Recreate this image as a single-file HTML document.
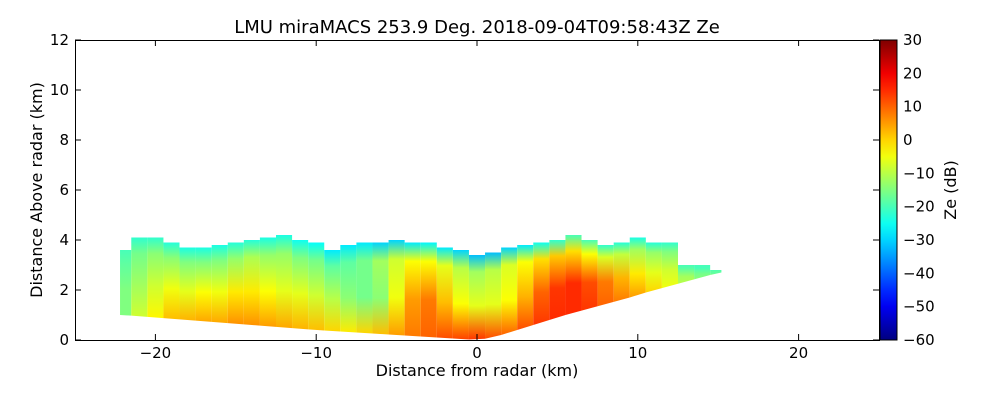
<!DOCTYPE html>
<html><head><meta charset="utf-8"><style>
html,body{margin:0;padding:0;background:#fff;width:1000px;height:400px;overflow:hidden}
text{font-family:"DejaVu Sans","Liberation Sans",sans-serif;fill:#000}
</style></head><body>
<svg id="chart" width="1000" height="400" xmlns="http://www.w3.org/2000/svg">
<defs id="defs"></defs>
<text x="477" y="33" font-size="18" text-anchor="middle">LMU miraMACS 253.9 Deg. 2018-09-04T09:58:43Z  Ze</text>
<g id="data"></g>
<rect x="75.5" y="40.5" width="804" height="300" fill="none" stroke="#000" stroke-width="1"/>
<g id="axes"></g>
<rect x="880" y="40" width="17" height="300" fill="url(#cbgrad)" stroke="#000" stroke-width="1"/>
<text x="477" y="376" font-size="16" text-anchor="middle">Distance from radar (km)</text>
<text transform="translate(42,190) rotate(-90)" font-size="16" text-anchor="middle">Distance Above radar  (km)</text>
<text transform="translate(956,190) rotate(-90)" font-size="16" text-anchor="middle">Ze (dB)</text>
</svg>
<script>
const xTicks=[-20,-10,0,10,20];
const yTicks=[0,2,4,6,8,10,12];
const cbTicks=[30,20,10,0,-10,-20,-30,-40,-50,-60];
const colX=[-22,-21,-20,-19,-18,-17,-16,-15,-14,-13,-12,-11,-10,-9,-8,-7,-6,-5,-4,-3,-2,-1,0,1,2,3,4,5,6,7,8,9,10,11,12,13,14,15];
const colTop=[3.6,4.1,4.1,3.9,3.7,3.7,3.8,3.9,4.0,4.1,4.2,4.0,3.9,3.6,3.8,3.9,3.9,4.0,3.9,3.9,3.7,3.6,3.4,3.5,3.7,3.8,3.9,4.0,4.2,4.0,3.8,3.9,4.1,3.9,3.9,3.0,3.0,2.8];
const colBottom=[1.0,0.95,0.9,0.85,0.8,0.75,0.7,0.65,0.6,0.55,0.5,0.45,0.4,0.36,0.32,0.28,0.24,0.2,0.16,0.12,0.08,0.04,0,0.1,0.3,0.5,0.7,0.9,1.1,1.25,1.45,1.6,1.8,2.0,2.15,2.35,2.5,2.7];
const zeLow=[-15,-8,-3,2,3,4,4,6,6,5,4,3,2,0,-2,0,2,5,8,10,12,13,14,12,10,12,14,15,15,14,10,8,5,0,-5,-10,-14,-15];
const zeMid=[-15,-12,-8,-5,-6,-4,-5,-2,-2,-4,-6,-6,-8,-10,-14,-16,-14,-5,5,8,2,-4,-6,-6,-4,3,10,14,15,12,8,3,-2,-6,-8,-12,-16,-18];
const zeHigh=[-18,-16,-14,-14,-15,-15,-15,-13,-11,-13,-13,-15,-16,-18,-18,-16,-12,-8,-4,-4,-6,-10,-12,-10,-7,-4,-1,1,-1,-4,-7,-9,-12,-13,-15,-18,-20,-18];
const zeTop=[-20,-22,-22,-23,-24,-24,-24,-23,-23,-24,-24,-25,-26,-28,-28,-28,-30,-30,-28,-27,-28,-30,-32,-32,-30,-28,-25,-22,-20,-20,-22,-23,-24,-23,-22,-20,-20,-20];

const X=v=>477+v*16.08, Y=v=>340-v*25, CB=v=>340-(v+60)*300/90;
function jet(v){let t=(v+60)/90;t=Math.max(0,Math.min(1,t));
 const f=c=>Math.round(255*Math.max(0,Math.min(1,1.5-Math.abs(4*t-c))));
 return `rgb(${f(3)},${f(2)},${f(1)})`;}
const NS='http://www.w3.org/2000/svg';
function mk(tag,attrs,parent){const e=document.createElementNS(NS,tag);for(const k in attrs)e.setAttribute(k,attrs[k]);parent.appendChild(e);return e;}
const defs=document.getElementById('defs');
const cb=mk('linearGradient',{id:'cbgrad',x1:0,y1:1,x2:0,y2:0},defs);
for(let i=0;i<=18;i++){mk('stop',{offset:i/18,'stop-color':jet(-60+i*5)},cb);}
const data=document.getElementById('data');
for(let i=0;i<colX.length;i++){
 const x0=colX[i]-0.5,x1=colX[i]+0.5;
 const g=mk('linearGradient',{id:'g'+i,x1:0,y1:1,x2:0,y2:0},defs);
 [[0,zeLow[i]],[0.4,zeMid[i]],[0.8,zeHigh[i]],[1,zeTop[i]]].forEach(s=>mk('stop',{offset:s[0],'stop-color':jet(s[1])},g));
 const bl=i>0?(colBottom[i-1]+colBottom[i])/2:colBottom[i];
 const br=i<colX.length-1?(colBottom[i]+colBottom[i+1])/2:colBottom[i];
 const xa=Math.max(x0,-22.2), xb=Math.min(x1,15.2);
 const p=mk('polygon',{points:`${X(xa)},${Y(bl)} ${X(xb)},${Y(br)} ${X(xb)},${Y(colTop[i])} ${X(xa)},${Y(colTop[i])}`,fill:'url(#g'+i+')'},data);
 
 
}
const axes=document.getElementById('axes');
xTicks.forEach(v=>{const x=X(v);
 mk('line',{x1:x,x2:x,y1:340,y2:334,stroke:'#000'},axes);mk('line',{x1:x,x2:x,y1:40,y2:46,stroke:'#000'},axes);
 const t=mk('text',{x:x,y:358,'font-size':15,'text-anchor':'middle'},axes);t.textContent=v<0?'\u2212'+(-v):v;
 
 });
yTicks.forEach(v=>{const y=Y(v);
 mk('line',{x1:75,x2:81,y1:y,y2:y,stroke:'#000'},axes);mk('line',{x1:879,x2:873,y1:y,y2:y,stroke:'#000'},axes);
 const t=mk('text',{x:69,y:y+5,'font-size':15,'text-anchor':'end'},axes);t.textContent=v;
 
 });
cbTicks.forEach(v=>{const y=CB(v);
 mk('line',{x1:893,x2:897,y1:y,y2:y,stroke:'#000'},axes);
 const t=mk('text',{x:903,y:y+5,'font-size':15},axes);t.textContent=v<0?'\u2212'+(-v):v;
 
 });
</script>
</body></html>
